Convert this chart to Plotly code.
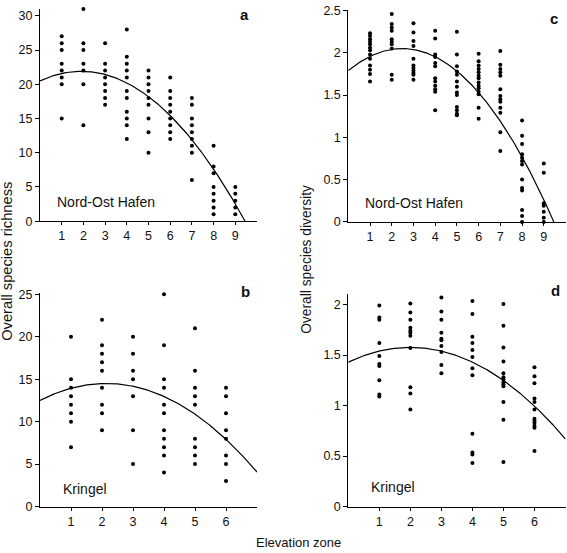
import numpy as np
import plotly.graph_objects as go

# ---------------- data ----------------
zones_nord = [1, 2, 3, 4, 5, 6, 7, 8, 9]
zones_kringel = [1, 2, 3, 4, 5, 6]

richness_nord = [
    [27, 26, 25, 23, 22, 21, 20, 15],
    [31, 26, 25, 23, 22, 20, 14],
    [26, 23, 22, 21, 20, 19, 18, 17],
    [28, 24, 23, 22, 21, 19, 18, 16, 15, 14, 12],
    [22, 21, 20, 19, 18, 17, 15, 13, 10],
    [21, 19, 18, 17, 16, 15, 14, 13, 12],
    [18, 17, 15, 14, 13, 12, 11, 10, 6],
    [11, 8, 7, 5, 4, 3, 2, 1],
    [5, 4, 3, 2, 1],
]
diversity_nord = [
    [2.23, 2.20, 2.16, 2.13, 2.10, 2.06, 2.03, 1.98, 1.93, 1.85, 1.80, 1.75, 1.66],
    [2.46, 2.34, 2.30, 2.26, 2.16, 2.13, 2.10, 2.05, 1.74, 1.68],
    [2.35, 2.24, 2.14, 2.08, 1.93, 1.85, 1.82, 1.79, 1.76, 1.74, 1.68],
    [2.26, 2.17, 1.98, 1.95, 1.88, 1.84, 1.70, 1.66, 1.61, 1.57, 1.54, 1.32],
    [2.25, 1.98, 1.84, 1.78, 1.74, 1.66, 1.60, 1.53, 1.50, 1.36, 1.32, 1.28, 1.26],
    [1.99, 1.90, 1.85, 1.81, 1.77, 1.73, 1.70, 1.65, 1.61, 1.58, 1.54, 1.51, 1.35, 1.22],
    [2.02, 1.86, 1.81, 1.77, 1.73, 1.57, 1.49, 1.45, 1.42, 1.35, 1.29, 1.06, 0.84],
    [1.20, 1.02, 0.92, 0.80, 0.76, 0.72, 0.68, 0.50, 0.40, 0.37, 0.14, 0.07, 0.0],
    [0.69, 0.58, 0.22, 0.19, 0.12, 0.05, 0.0],
]
richness_kringel = [
    [20, 15, 14, 13, 12, 11, 10, 7],
    [22, 19, 18, 17, 16, 14, 12, 11, 9],
    [20, 18, 16, 15, 13, 9, 5],
    [25, 19, 15, 14, 12, 11, 9, 8, 7, 6, 4],
    [21, 16, 14, 13, 12, 8, 7, 6, 5],
    [14, 13, 11, 9, 8, 6, 5, 3],
]
diversity_kringel = [
    [1.99, 1.87, 1.85, 1.62, 1.49, 1.41, 1.39, 1.25, 1.11, 1.09],
    [2.01, 1.92, 1.85, 1.77, 1.74, 1.72, 1.69, 1.57, 1.18, 1.12, 0.96],
    [2.07, 1.93, 1.85, 1.72, 1.66, 1.645, 1.59, 1.53, 1.40, 1.32],
    [2.035, 1.905, 1.68, 1.62, 1.55, 1.48, 1.37, 1.30, 0.72, 0.535, 0.515, 0.43],
    [2.006, 1.79, 1.575, 1.435, 1.32, 1.28, 1.26, 1.23, 1.21, 1.19, 1.035, 0.86, 0.44],
    [1.38, 1.29, 1.22, 1.07, 1.035, 0.96, 0.87, 0.85, 0.83, 0.80, 0.78, 0.55],
]

# quadratic fit coefficients (a2, a1, a0)
fit_richness_nord = [-0.384, 1.459, 20.5]
fit_diversity_nord = [-0.0421, 0.2092, 1.79]
fit_richness_kringel = [-0.44, 1.876, 12.5]
fit_diversity_kringel = [-0.0363, 0.1452, 1.43]

site_nord = "Nord-Ost Hafen"
site_kringel = "Kringel"
ylabel_richness = "Overall species richness"
ylabel_diversity = "Overall species diversity"
xlabel = "Elevation zone"

# ---------------- figure ----------------
W, H = 567, 553
FONT = "Liberation Sans, Arial, sans-serif"
fig = go.Figure()


def add_panel(zones, groups, coef, xmax, axis_suffix):
    xs, ys = [], []
    for z, vals in zip(zones, groups):
        xs += [z] * len(vals)
        ys += vals
    xa = "x" + axis_suffix
    ya = "y" + axis_suffix
    fig.add_trace(go.Scatter(
        x=xs, y=ys, mode="markers", xaxis=xa, yaxis=ya,
        marker=dict(color="black", size=4), cliponaxis=False, showlegend=False))
    p = np.poly1d(coef)
    roots = [r.real for r in p.r if abs(r.imag) < 1e-9 and r.real > 0]
    xend = min([xmax] + roots)
    xc = np.linspace(0, xend, 200)
    fig.add_trace(go.Scatter(
        x=xc, y=p(xc), mode="lines", xaxis=xa, yaxis=ya,
        line=dict(color="black", width=1.2), showlegend=False))


add_panel(zones_nord, richness_nord, fit_richness_nord, 10, "")
add_panel(zones_nord, diversity_nord, fit_diversity_nord, 10, "2")
add_panel(zones_kringel, richness_kringel, fit_richness_kringel, 7, "3")
add_panel(zones_kringel, diversity_kringel, fit_diversity_kringel, 7, "4")

xl = [40 / W, 257 / W]
xr = [348.3 / W, 565.5 / W]
yt_a = [1 - 221 / H, 1 - 4 / H]
yt_c = [1 - 221.7 / H, 1 - 4.8 / H]
yb_b = [1 - 512.7 / H, 1 - 294.4 / H]
yb_d = [1 - 512.7 / H, 1 - 295.8 / H]

axis_common = dict(showline=True, linecolor="black", linewidth=1, showgrid=False,
                   zeroline=False, ticks="outside", ticklen=4, tickwidth=1,
                   tickcolor="black", tickfont=dict(family=FONT, size=12.5, color="#111"))


def xaxis(domain, rng, anchor, vals):
    d = dict(axis_common)
    d.update(domain=domain, range=rng, anchor=anchor, tickmode="array",
             tickvals=vals, ticktext=[str(v) for v in vals], ticklen=3)
    return d


def yaxis(domain, rng, anchor, vals, text):
    d = dict(axis_common)
    d.update(domain=domain, range=rng, anchor=anchor, tickmode="array",
             tickvals=vals, ticktext=text)
    return d


fig.update_layout(
    width=W, height=H, margin=dict(l=0, r=0, t=0, b=0),
    paper_bgcolor="white", plot_bgcolor="white",
    font=dict(family=FONT, color="#111"),
    xaxis=xaxis(xl, [0, 10], "y", zones_nord),
    yaxis=yaxis(yt_a, [0, 31], "x", [0, 5, 10, 15, 20, 25, 30],
                ["0", "5", "10", "15", "20", "25", "30"]),
    xaxis2=xaxis(xr, [0, 10], "y2", zones_nord),
    yaxis2=yaxis(yt_c, [0, 2.51], "x2", [0, 0.5, 1, 1.5, 2, 2.5],
                 ["0", "0.5", "1", "1.5", "2", "2.5"]),
    xaxis3=xaxis(xl, [0, 7], "y3", zones_kringel),
    yaxis3=yaxis(yb_b, [0, 25.15], "x3", [0, 5, 10, 15, 20, 25],
                 ["0", "5", "10", "15", "20", "25"]),
    xaxis4=xaxis(xr, [0, 7], "y4", zones_kringel),
    yaxis4=yaxis(yb_d, [0, 2.1], "x4", [0, 0.5, 1, 1.5, 2],
                 ["0", "0.5", "1", "1.5", "2"]),
)

ann = []
for xr_, yr_, xv, yv, txt in [("x", "y", 0.69, 2.8, site_nord),
                              ("x2", "y2", 0.69, 0.22, site_nord),
                              ("x3", "y3", 0.68, 2.04, site_kringel),
                              ("x4", "y4", 0.68, 0.19, site_kringel)]:
    ann.append(dict(xref=xr_, yref=yr_, x=xv, y=yv, text=txt, showarrow=False,
                    xanchor="left", yanchor="middle",
                    font=dict(family=FONT, size=14, color="#111")))
for xv, yv, txt in [(244, 9.3, "a"), (554, 13.3, "c"), (245, 293.3, "b"), (555, 292.3, "d")]:
    ann.append(dict(xref="paper", yref="paper", x=xv / W, y=1 - yv / H, text="<b>%s</b>" % txt,
                    showarrow=False, xanchor="center", yanchor="middle",
                    font=dict(family=FONT, size=15, color="#111")))
ann.append(dict(xref="paper", yref="paper", x=7.5 / W, y=1 - 262 / H, text=ylabel_richness,
                textangle=-90, showarrow=False, xanchor="center", yanchor="middle",
                font=dict(family=FONT, size=14.7, color="#111")))
ann.append(dict(xref="paper", yref="paper", x=306.5 / W, y=1 - 260 / H, text=ylabel_diversity,
                textangle=-90, showarrow=False, xanchor="center", yanchor="middle",
                font=dict(family=FONT, size=13.8, color="#111")))
ann.append(dict(xref="paper", yref="paper", x=298.5 / W, y=1 - 549 / H, text=xlabel,
                showarrow=False, xanchor="center", yanchor="middle",
                font=dict(family=FONT, size=13, color="#111")))
fig.update_layout(annotations=ann)

fig.write_html("out.html", config={"displayModeBar": False},
               post_script="document.body.style.margin='0px';document.body.style.overflow='hidden';")
